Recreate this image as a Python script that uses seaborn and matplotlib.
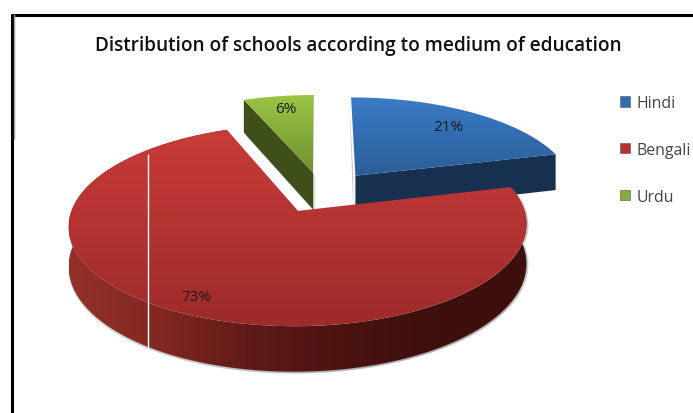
import numpy as np
import matplotlib
matplotlib.use("Agg")
import matplotlib.pyplot as plt
from matplotlib.patches import Polygon, Patch
import seaborn as sns

# Chart content
title_text = "Distribution of schools according to medium of education"
categories = ["Hindi", "Bengali", "Urdu"]
shares = [21, 73, 6]

# Appearance of each slice
top_colors = [("#3a7cc8", "#2b5d97"), ("#c93b39", "#9c2b2a"), ("#9bc444", "#6f9130")]
wall_colors = ["#17304f", "#3d0f0d", "#3f4f1a"]
legend_colors = ["#2f6cb0", "#b8312f", "#86ad38"]
slice_offsets = [(0.167, 0.20), (-0.095, -0.175), (-0.03, 0.235)]
label_spots = [(0.55, 0.62), (0.60, 0.62), (0.52, 0.80)]
label_nudges = [(0.07, 0.13), (0.11, -0.40), (0.0, 0.02)]

# Projection of the tilted disc onto the page, in pixels
center_x, center_y = 319.5, 195
radius_x, radius_y = 221, 94
tilt = 0.14
depth = 38

sns.set_theme(style="white")
plt.rcParams["font.family"] = ["Open Sans", "DejaVu Sans"]

fig = plt.figure(figsize=(6.93, 4.14), dpi=100)
ax = fig.add_axes([0, 0, 1, 1])
ax.set_axis_off()


def project(u, v, drop=0.0):
    w = 1 + tilt * v
    return center_x + radius_x * u / w, center_y + (drop * depth - radius_y * v) / w


def fill_gradient(outline, stops, axis, span):
    """Paint a polygon with a linear gradient running along x or y."""
    cmap = sns.blend_palette(stops, n_colors=64, as_cmap=True)
    ramp = np.linspace(0, 1, 256)
    ramp = ramp[None, :] if axis == "x" else ramp[:, None]
    xs, ys = outline[:, 0], outline[:, 1]
    lo, hi = span
    extent = (lo, hi, ys.max() + 1, ys.min() - 1) if axis == "x" else (xs.min() - 1, xs.max() + 1, hi, lo)
    im = ax.imshow(ramp, cmap=cmap, extent=extent, origin="upper", aspect="auto", interpolation="bilinear", zorder=z[0])
    clip = Polygon(outline, closed=True, transform=ax.transData)
    im.set_clip_path(clip)
    z[0] += 1


def arc(start, sweep, offset, drop=0.0):
    a = np.radians(np.linspace(start, start + sweep, 200))
    return np.column_stack(project(np.sin(a) + offset[0], np.cos(a) + offset[1], drop))


def radial_face(angle, offset):
    a = np.radians(angle)
    u, v = np.sin(a) + offset[0], np.cos(a) + offset[1]
    return np.array([project(offset[0], offset[1]), project(u, v), project(u, v, 1), project(offset[0], offset[1], 1)])


def shadow(outline, dx=-2.0, dy=2.0):
    ax.add_patch(Polygon(outline + [dx, dy], closed=True, fc="#8a8a8a", ec="none", alpha=0.45, zorder=z[0]))
    z[0] += 1


z = [1]
angles = np.array(shares) * 3.6
starts = np.concatenate([[0], np.cumsum(angles)[:-1]])

# Hindi: cut face below the right-hand radius, then the top
hindi_face = radial_face(starts[0] + angles[0], slice_offsets[0])
hindi_top = np.vstack([project(*slice_offsets[0]), arc(starts[0], angles[0], slice_offsets[0])])
shadow(np.vstack([hindi_top[:2], hindi_face[3:]]), dx=-2, dy=0)
ax.add_patch(Polygon(hindi_face, closed=True, fc=wall_colors[0], ec="none", zorder=z[0]))
z[0] += 1
fill_gradient(hindi_top, top_colors[0], "y", (hindi_top[:, 1].min(), hindi_top[:, 1].max()))

# Urdu: cut face below the left-hand radius, then the top
urdu_face = radial_face(starts[2], slice_offsets[2])
urdu_top = np.vstack([project(*slice_offsets[2]), arc(starts[2], angles[2], slice_offsets[2])])
shadow(urdu_face, dx=1.5, dy=2.5)
ax.add_patch(Polygon(urdu_face, closed=True, fc=wall_colors[2], ec="none", zorder=z[0]))
z[0] += 1
fill_gradient(urdu_top, top_colors[2], "y", (urdu_top[:, 1].min(), urdu_top[:, 1].max()))

# Bengali: the outer rim sits under the top surface
bengali_rim = np.vstack([arc(starts[1], angles[1], slice_offsets[1]),
                         arc(starts[1], angles[1], slice_offsets[1], 1)[::-1]])
shadow(bengali_rim, dx=0.0, dy=2.0)
shadow(bengali_rim, dx=2.0, dy=1.0)
fill_gradient(bengali_rim, ["#93302a", "#822722", "#5f1a16", "#4a1310", "#3d0f0d", "#3d0f0d"], "x",
              (bengali_rim[:, 0].min(), bengali_rim[:, 0].max()))
bengali_top = np.vstack([project(*slice_offsets[1]), arc(starts[1], angles[1], slice_offsets[1])])
fill_gradient(bengali_top, top_colors[1], "y", (bengali_top[:, 1].min(), bengali_top[:, 1].max()))

# Percentage labels sit on the top surfaces
for i, (share, start, sweep, spot, nudge, offset) in enumerate(
        zip(shares, starts, angles, label_spots, label_nudges, slice_offsets)):
    a = np.radians(start + sweep * spot[0])
    lx, ly = project(offset[0] + spot[1] * np.sin(a) + nudge[0], offset[1] + spot[1] * np.cos(a) + nudge[1])
    ax.text(lx, ly, f"{share}%", ha="center", va="center", fontsize=11, color="#1c1c1c", zorder=50)

# Thin white rule crossing the large slice
ax.vlines(148, 155, 350, color="white", lw=1.0, zorder=60)

# Page frame: heavy rules on the top and left only
ax.plot([11, 693], [15.5, 15.5], color="black", lw=2.2, solid_capstyle="butt", zorder=70)
ax.plot([12, 12], [15, 414], color="black", lw=2.2, solid_capstyle="butt", zorder=70)
ax.plot([14, 14], [15, 140], color="#9a9a9a", lw=1.0, solid_capstyle="butt", zorder=70)

ax.text(358, 45.5, title_text, ha="center", va="center", fontsize=13.7, fontweight="semibold", color="#111111", zorder=70)

handles = [Patch(facecolor=c, edgecolor="#555555", linewidth=0.4) for c in legend_colors]
ax.legend(handles, categories, loc="upper left", bbox_to_anchor=(620 / 693, 1 - 96 / 414), frameon=False,
          fontsize=11.4, handlelength=0.62, handleheight=0.62, handletextpad=0.45, labelspacing=1.95,
          borderpad=0, borderaxespad=0, labelcolor="#444444")

ax.set_xlim(0, 693)
ax.set_ylim(414, 0)
fig.savefig("out.png", dpi=100, facecolor="white")
